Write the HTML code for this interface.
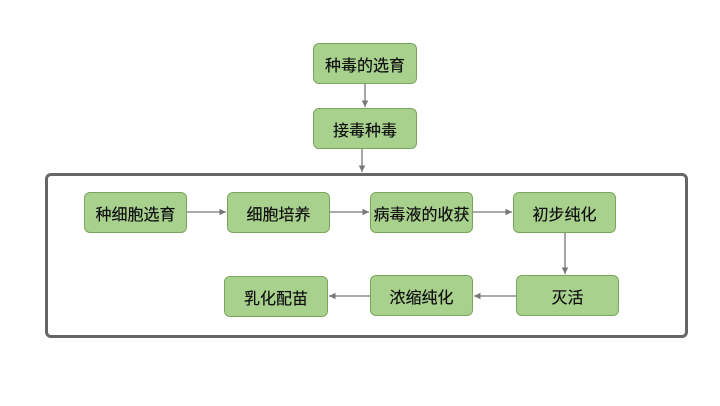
<!DOCTYPE html>
<html><head><meta charset="utf-8"><style>
body{margin:0;width:720px;height:406px;background:#fff;position:relative;overflow:hidden;font-family:"Liberation Sans","Noto Sans CJK SC",sans-serif}
.b{position:absolute;box-sizing:border-box;background:#a9d18e;border:1.5px solid #7aa65a;border-radius:6px;display:flex;align-items:center;justify-content:center;font-size:16px;color:#111;height:41px;width:104px;text-shadow:0 0 0.4px #111}
.f{position:absolute;left:45px;top:173px;width:643px;height:165px;box-sizing:border-box;border:3.5px solid #666;border-radius:6px}
svg{position:absolute;left:0;top:0}
</style></head><body>
<div class="f"></div>
<svg width="720" height="406"><defs><marker id="a" markerWidth="6" markerHeight="6" refX="5" refY="3" orient="auto"><path d="M0,0.5L5,3L0,5.5z" fill="#777"/></marker></defs>
<g stroke="#777" stroke-width="1.3" fill="none" marker-end="url(#a)">
<line x1="365" y1="84" x2="365" y2="107"/>
<line x1="362" y1="148" x2="362" y2="172"/>
<line x1="187" y1="212" x2="226" y2="212"/>
<line x1="330" y1="212" x2="369" y2="212"/>
<line x1="473" y1="212" x2="512" y2="212"/>
<line x1="565" y1="232" x2="565" y2="274"/>
<line x1="516" y1="296" x2="474" y2="296"/>
<line x1="370" y1="296" x2="329" y2="296"/>
</g></svg>
<div class="b" style="left:313px;top:43px">种毒的选育</div>
<div class="b" style="left:313px;top:108px">接毒种毒</div>
<div class="b" style="left:84px;top:192px;width:103px">种细胞选育</div>
<div class="b" style="left:227px;top:192px;width:103px">细胞培养</div>
<div class="b" style="left:370px;top:192px;width:103px">病毒液的收获</div>
<div class="b" style="left:513px;top:192px;width:103px">初步纯化</div>
<div class="b" style="left:516px;top:275px;width:103px">灭活</div>
<div class="b" style="left:370px;top:275px;width:103px">浓缩纯化</div>
<div class="b" style="left:224px;top:276px">乳化配苗</div>
</body></html>
